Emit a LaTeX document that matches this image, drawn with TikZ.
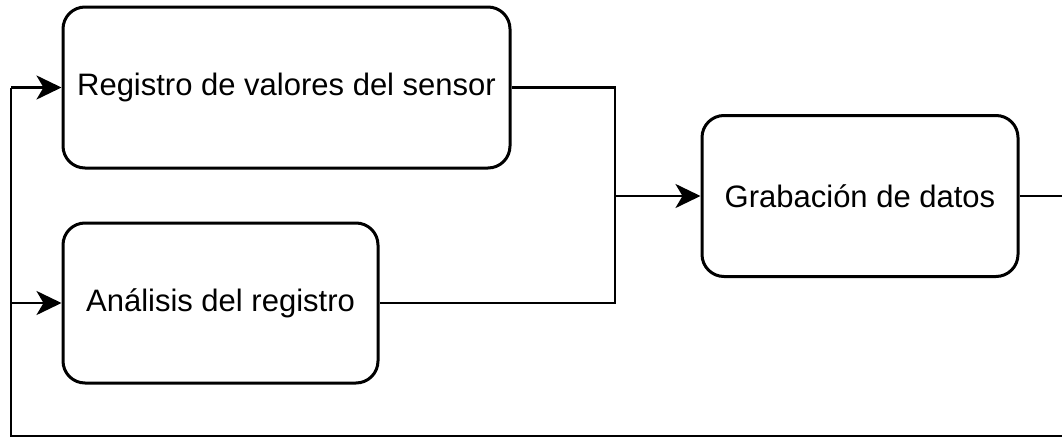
\documentclass[tikz,border=0pt]{standalone}
\usepackage{fontspec}
\setmainfont{Liberation Sans}
\usetikzlibrary{arrows.meta}
\begin{document}
\begin{tikzpicture}[x=1pt,y=-1pt,
  proc/.style={draw, line width=3pt, rounded corners=22pt, fill=white,
    inner sep=0pt, font=\fontsize{31}{36}\selectfont},
  link/.style={line width=2.8pt},
  flow/.style={link, -{Stealth[length=25pt,width=24pt,inset=7pt]}}]
  \useasboundingbox (0,0) rectangle (1062,439);
  \clip (0,0) rectangle (1062,439);
  % process boxes
  \node[proc, minimum width=447pt, minimum height=161pt] (reg) at (286.5,87.5) {Registro de valores del sensor};
  \node[proc, minimum width=315pt, minimum height=160pt] (ana) at (220.5,303) {Análisis del registro};
  \node[proc, minimum width=316pt, minimum height=161pt] (grab) at (860,196) {Grabación de datos};
  % merge point of the two upper branches
  \coordinate (merge) at (615,196);
  \coordinate (loopR) at (1090,436);
  \coordinate (loopL) at (11,436);
  \draw[link] (reg.east) -| (merge) |- (ana.east);
  \draw[flow] (merge) -- (grab.west);
  % feedback loop back to the start
  \draw[link] (grab.east) -| (loopR) -- (loopL) -- (loopL |- reg.west);
  \draw[flow] (loopL |- reg.west) -- (reg.west);
  \draw[flow] (loopL |- ana.west) -- (ana.west);
\end{tikzpicture}
\end{document}
